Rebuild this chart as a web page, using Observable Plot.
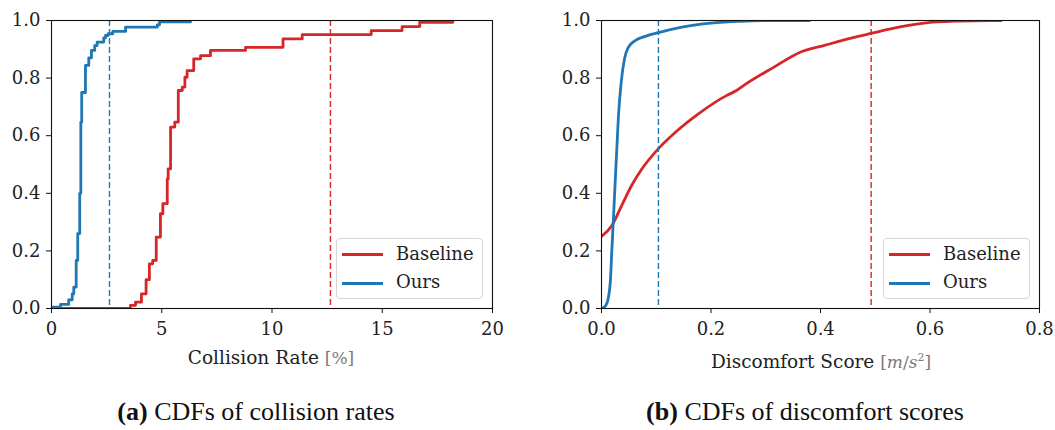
<!DOCTYPE html>
<html><head><meta charset="utf-8">
<script src="https://cdn.jsdelivr.net/npm/d3@7"></script>
<script src="https://cdn.jsdelivr.net/npm/@observablehq/plot@0.6"></script>
<style>
body{margin:0;background:#fff;}
#wrap{position:relative;width:1055px;height:430px;font-family:'DejaVu Serif',serif;color:#222;overflow:hidden;}
.panel{position:absolute;top:0;}
.xlabel{position:absolute;font-family:'DejaVu Serif',serif;font-size:18.5px;line-height:22px;white-space:nowrap;transform:translateX(-50%);}
.xlabel .unit{color:#7a7a7a;font-size:17px;}
.caption{position:absolute;font-family:'Liberation Serif','Times New Roman',serif;font-size:26px;line-height:29px;white-space:nowrap;transform:translateX(-50%);color:#111;}
.legend{position:absolute;border:1px solid #d6d6d6;border-radius:4px;background:rgba(255,255,255,0.85);box-sizing:border-box;}
.legend .sw{position:absolute;height:3px;width:41px;}
.legend .lt{position:absolute;font-family:'DejaVu Serif',serif;font-size:18px;line-height:20px;white-space:nowrap;}
</style>
</head><body>
<div id="wrap"></div>
<script>
// ---- data ----
const seriesNames = ["Baseline", "Ours"];
const seriesColors = ["#d62728", "#1f77b4"];

// (a) collision rate CDFs (step)
const collisionBaselineX = [0, 3.58, 3.81, 4.08, 4.29, 4.44, 4.59, 4.75, 4.94, 5.05, 5.25, 5.29, 5.40, 5.59, 5.75, 5.93, 6.05, 6.15, 6.45, 6.76, 7.21, 8.80, 10.50, 11.37, 14.50, 15.90, 16.70, 18.20];
const collisionBaselineY = [0, 0.011, 0.022, 0.051, 0.10, 0.155, 0.167, 0.248, 0.329, 0.364, 0.45, 0.485, 0.63, 0.647, 0.757, 0.769, 0.803, 0.826, 0.867, 0.878, 0.896, 0.907, 0.936, 0.951, 0.965, 0.979, 0.994, 1.0];
const collisionOursX = [0, 0.41, 0.78, 0.94, 1.01, 1.12, 1.19, 1.28, 1.33, 1.37, 1.54, 1.69, 1.81, 1.96, 2.07, 2.37, 2.45, 2.57, 2.78, 3.36, 4.80, 4.90, 6.30];
const collisionOursY = [0.005, 0.014, 0.03, 0.051, 0.074, 0.167, 0.26, 0.40, 0.647, 0.75, 0.844, 0.87, 0.896, 0.913, 0.925, 0.94, 0.948, 0.954, 0.962, 0.977, 0.985, 0.995, 1.0];
const collisionMarks = [12.65, 2.63]; // Baseline, Ours dashed lines
const collisionTicks = [0, 5, 10, 15, 20];

// (b) discomfort score CDFs (smooth)
const discomfortBaselineX = [0, 0.019, 0.037, 0.055, 0.074, 0.104, 0.135, 0.177, 0.229, 0.245, 0.26, 0.315, 0.363, 0.406, 0.467, 0.4925, 0.528, 0.589, 0.65, 0.71, 0.73];
const discomfortBaselineY = [0.25, 0.288, 0.358, 0.427, 0.485, 0.555, 0.612, 0.676, 0.74, 0.755, 0.775, 0.838, 0.89, 0.913, 0.944, 0.955, 0.971, 0.991, 0.998, 1.0, 1.0];
const discomfortOursX = [0, 0.004, 0.0097, 0.016, 0.019, 0.022, 0.025, 0.028, 0.031, 0.036, 0.042, 0.049, 0.0615, 0.08, 0.104, 0.147, 0.195, 0.25, 0.3, 0.38];
const discomfortOursY = [0, 0.003, 0.017, 0.09, 0.207, 0.32, 0.44, 0.555, 0.67, 0.786, 0.867, 0.907, 0.93, 0.945, 0.958, 0.977, 0.99, 0.997, 1.0, 1.0];
const discomfortMarks = [0.4925, 0.104];
const discomfortTicks = [0, 0.2, 0.4, 0.6, 0.8];

const yTicks = [0, 0.2, 0.4, 0.6, 0.8, 1.0];

// ---- build ----
const FONT = "DejaVu Serif";
const rows = (xs, ys, s) => xs.map((x, i) => ({x, y: ys[i], s}));

function panel({xDomain, xTicks, xFormat, data, marks, curve, width, marginLeft, marginRight}) {
  return Plot.plot({
    width, height: 375, marginLeft, marginRight, marginTop: 20, marginBottom: 67,
    style: {fontFamily: FONT, fontSize: "18px", color: "#222", background: "transparent"},
    x: {domain: xDomain, label: null},
    y: {domain: [0, 1], label: null},
    color: {domain: seriesNames, range: seriesColors},
    marks: [
      Plot.line(data, {x: "x", y: "y", stroke: "s", z: "s", curve, strokeWidth: 2.8, clip: true}),
      Plot.ruleX(marks.map((v, i) => ({v, s: seriesNames[i]})), {x: "v", stroke: "s", strokeWidth: 1.4, strokeDasharray: "6,3"}),
      Plot.frame({stroke: "#111", strokeWidth: 1.1}),
      Plot.axisX({ticks: xTicks, tickFormat: xFormat, tickSize: 5, tickPadding: 9, stroke: "#111", fill: "#222", fontFamily: FONT, fontSize: 18}),
      Plot.axisY({ticks: yTicks, tickFormat: d3.format(".1f"), tickSize: 5, tickPadding: 6, stroke: "#111", fill: "#222", fontFamily: FONT, fontSize: 18})
    ]
  });
}

const wrap = document.getElementById("wrap");

const left = panel({
  xDomain: [0, 20], xTicks: collisionTicks, xFormat: d3.format("d"),
  data: [...rows(collisionBaselineX, collisionBaselineY, "Baseline"), ...rows(collisionOursX, collisionOursY, "Ours")],
  marks: collisionMarks, curve: "step-after", width: 527, marginLeft: 51, marginRight: 35
});
left.classList.add("panel"); left.style.left = "0px";
wrap.appendChild(left);

const right = panel({
  xDomain: [0, 0.8], xTicks: discomfortTicks, xFormat: d3.format(".1f"),
  data: [...rows(discomfortBaselineX, discomfortBaselineY, "Baseline"), ...rows(discomfortOursX, discomfortOursY, "Ours")],
  marks: discomfortMarks, curve: "monotone-x", width: 528, marginLeft: 74, marginRight: 16
});
right.classList.add("panel"); right.style.left = "527px";
wrap.appendChild(right);

function addDiv(cls, html, x, y) {
  const d = document.createElement("div");
  d.className = cls; d.innerHTML = html;
  d.style.left = x + "px"; d.style.top = y + "px";
  wrap.appendChild(d); return d;
}
addDiv("xlabel", 'Collision Rate <span class="unit">[%]</span>', 271, 347);
addDiv("xlabel", 'Discomfort Score <span class="unit">[<i>m</i>/<i>s</i><sup style="font-size:11px">2</sup>]</span>', 821, 347);
addDiv("caption", '<b>(a)</b> CDFs of collision rates', 256, 397);
addDiv("caption", '<b>(b)</b> CDFs of discomfort scores', 805, 397);

function legend(x, y) {
  const l = document.createElement("div");
  l.className = "legend";
  l.style.left = x + "px"; l.style.top = y + "px"; l.style.width = "147px"; l.style.height = "61px";
  seriesNames.forEach((n, i) => {
    const sw = document.createElement("div");
    sw.className = "sw"; sw.style.background = seriesColors[i];
    sw.style.left = "5px"; sw.style.top = (13.5 + 29 * i) + "px";
    l.appendChild(sw);
    const t = document.createElement("div");
    t.className = "lt"; t.textContent = n;
    t.style.left = "59px"; t.style.top = (5 + 28 * i) + "px";
    l.appendChild(t);
  });
  wrap.appendChild(l);
}
legend(336, 238);
legend(883, 238);
</script>
</body></html>
